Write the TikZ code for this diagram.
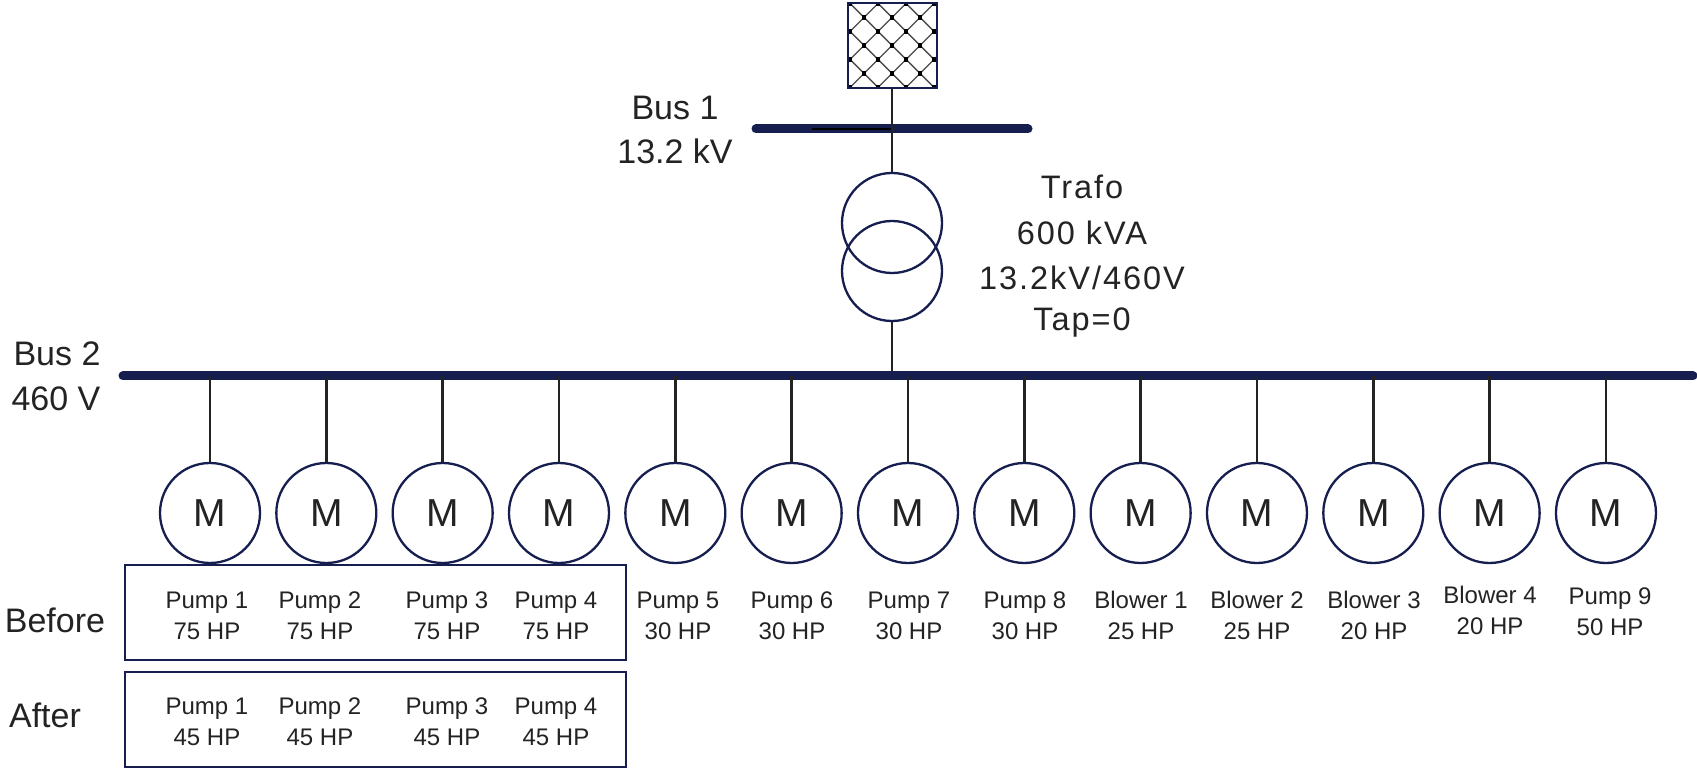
\documentclass[tikz,border=0pt]{standalone}
\usepackage{fontspec}
\setmainfont{Liberation Sans}
\newfontfamily\trafofont[LetterSpace=6]{Liberation Sans}
\definecolor{navy}{RGB}{22,30,80}
\definecolor{txt}{RGB}{35,35,35}
\begin{document}
\begin{tikzpicture}[x=1pt,y=-1pt,
  bus/.style={line width=9pt,draw=navy,line cap=round},
  wire/.style={line width=2.4pt,draw=txt},
  motor/.style={circle,draw=navy,line width=2.3pt,minimum size=100pt,inner sep=0pt,text=txt,font=\fontsize{39}{39}\selectfont},
  winding/.style={circle,draw=navy,line width=2.3pt,minimum size=100pt,inner sep=0pt},
  lbl/.style={text=txt,align=center,inner sep=0pt,font=\fontsize{24}{31}\selectfont},
  biglbl/.style={text=txt,inner sep=0pt,font=\fontsize{34}{34}\selectfont},
  trlbl/.style={text=txt,inner sep=0pt,font=\trafofont\fontsize{32.5}{32.5}\selectfont},
  framebox/.style={draw=navy,line width=2.5pt,minimum width=501pt,minimum height=95pt,inner sep=0pt}
]
\useasboundingbox[fill=white] (0,0) rectangle (1697,775);

% source (grid) box
\node[draw=navy,line width=2pt,minimum width=89pt,minimum height=85pt,inner sep=0pt] (src) at (892,45.5) {};
\begin{scope}
  \clip (847,3) rectangle (936,88);
  \foreach \k in {-5,...,5}{
    \draw[line width=1.4pt,draw=black!70] (892+28*\k-70,45.5-70) -- (892+28*\k+70,45.5+70);
    \draw[line width=1.4pt,draw=black!70] (892+28*\k-70,45.5+70) -- (892+28*\k+70,45.5-70);
  }
  \foreach \a in {-3,...,3}{
    \foreach \b in {-3,...,3}{
      \pgfmathtruncatemacro{\s}{mod(abs(\a+\b),2)}
      \ifnum\s=0
        \fill[black] (892+14*\a-2.2,45.5+14*\b-2.2) rectangle (892+14*\a+2.2,45.5+14*\b+2.2);
      \fi
    }
  }
\end{scope}
\node[draw=navy,line width=2pt,minimum width=89pt,minimum height=85pt,inner sep=0pt] at (892,45.5) {};

% bus 1
\coordinate (b1l) at (756,129);
\coordinate (b1r) at (1028,129);
\coordinate (b1t) at (892,129);
\draw[bus] (b1l) -- (b1r);
\draw[line width=2pt,draw=black] (812,129) -- (b1t);
\draw[wire] (src.south) -- (b1t);
\node[biglbl] (bus1a) at (675,108) {Bus 1};
\node[biglbl] (bus1b) at (675,151) {13.2 kV};

% transformer
\node[winding] (t1) at (892,223) {};
\node[winding] (t2) at (892,271) {};
\draw[wire] (b1t) -- (t1.north);
\node[trlbl] (tr1) at (1082,187) {Trafo};
\node[trlbl] (tr2) at (1082,233) {600 kVA};
\node[trlbl] (tr3) at (1082,278) {13.2kV/460V};
\node[trlbl] (tr4) at (1082,323) {Tap=0};

% bus 2
\coordinate (b2l) at (123,376);
\coordinate (b2r) at (1693,376);
\draw[wire] (t2.south) -- (t2.south |- b2l);
\draw[bus] (b2l) -- (b2r);
\node[biglbl] (bus2a) at (57,354) {Bus 2};
\node[biglbl] (bus2b) at (56,399) {460 V};

% motors
\foreach \i in {0,...,12}{
  \node[motor] (m\i) at (210+116.33*\i,513) {M};
  \draw[wire] (m\i.north |- b2l) -- (m\i.north);
}

% before / after boxes
\node[framebox] (before) at (375.5,612.5) {};
\node[framebox] (after) at (375.5,719.5) {};
\node[biglbl] (beforelbl) at (55,620) {Before};
\node[biglbl] (afterlbl) at (45,715) {After};

\node[lbl] (p1b) at (207,615.5) {Pump 1\\75 HP};
\node[lbl] (p2b) at (320,615.5) {Pump 2\\75 HP};
\node[lbl] (p3b) at (447,615.5) {Pump 3\\75 HP};
\node[lbl] (p4b) at (556,615.5) {Pump 4\\75 HP};
\node[lbl] (p1a) at (207,721.5) {Pump 1\\45 HP};
\node[lbl] (p2a) at (320,721.5) {Pump 2\\45 HP};
\node[lbl] (p3a) at (447,721.5) {Pump 3\\45 HP};
\node[lbl] (p4a) at (556,721.5) {Pump 4\\45 HP};

\node[lbl] (p5) at (678,615.5) {Pump 5\\30 HP};
\node[lbl] (p6) at (792,615.5) {Pump 6\\30 HP};
\node[lbl] (p7) at (909,615.5) {Pump 7\\30 HP};
\node[lbl] (p8) at (1025,615.5) {Pump 8\\30 HP};
\node[lbl] (bl1) at (1141,615.5) {Blower 1\\25 HP};
\node[lbl] (bl2) at (1257,615.5) {Blower 2\\25 HP};
\node[lbl] (bl3) at (1374,615.5) {Blower 3\\20 HP};
\node[lbl] (bl4) at (1490,610) {Blower 4\\20 HP};
\node[lbl] (p9) at (1610,612) {Pump 9\\50 HP};
\end{tikzpicture}
\end{document}
